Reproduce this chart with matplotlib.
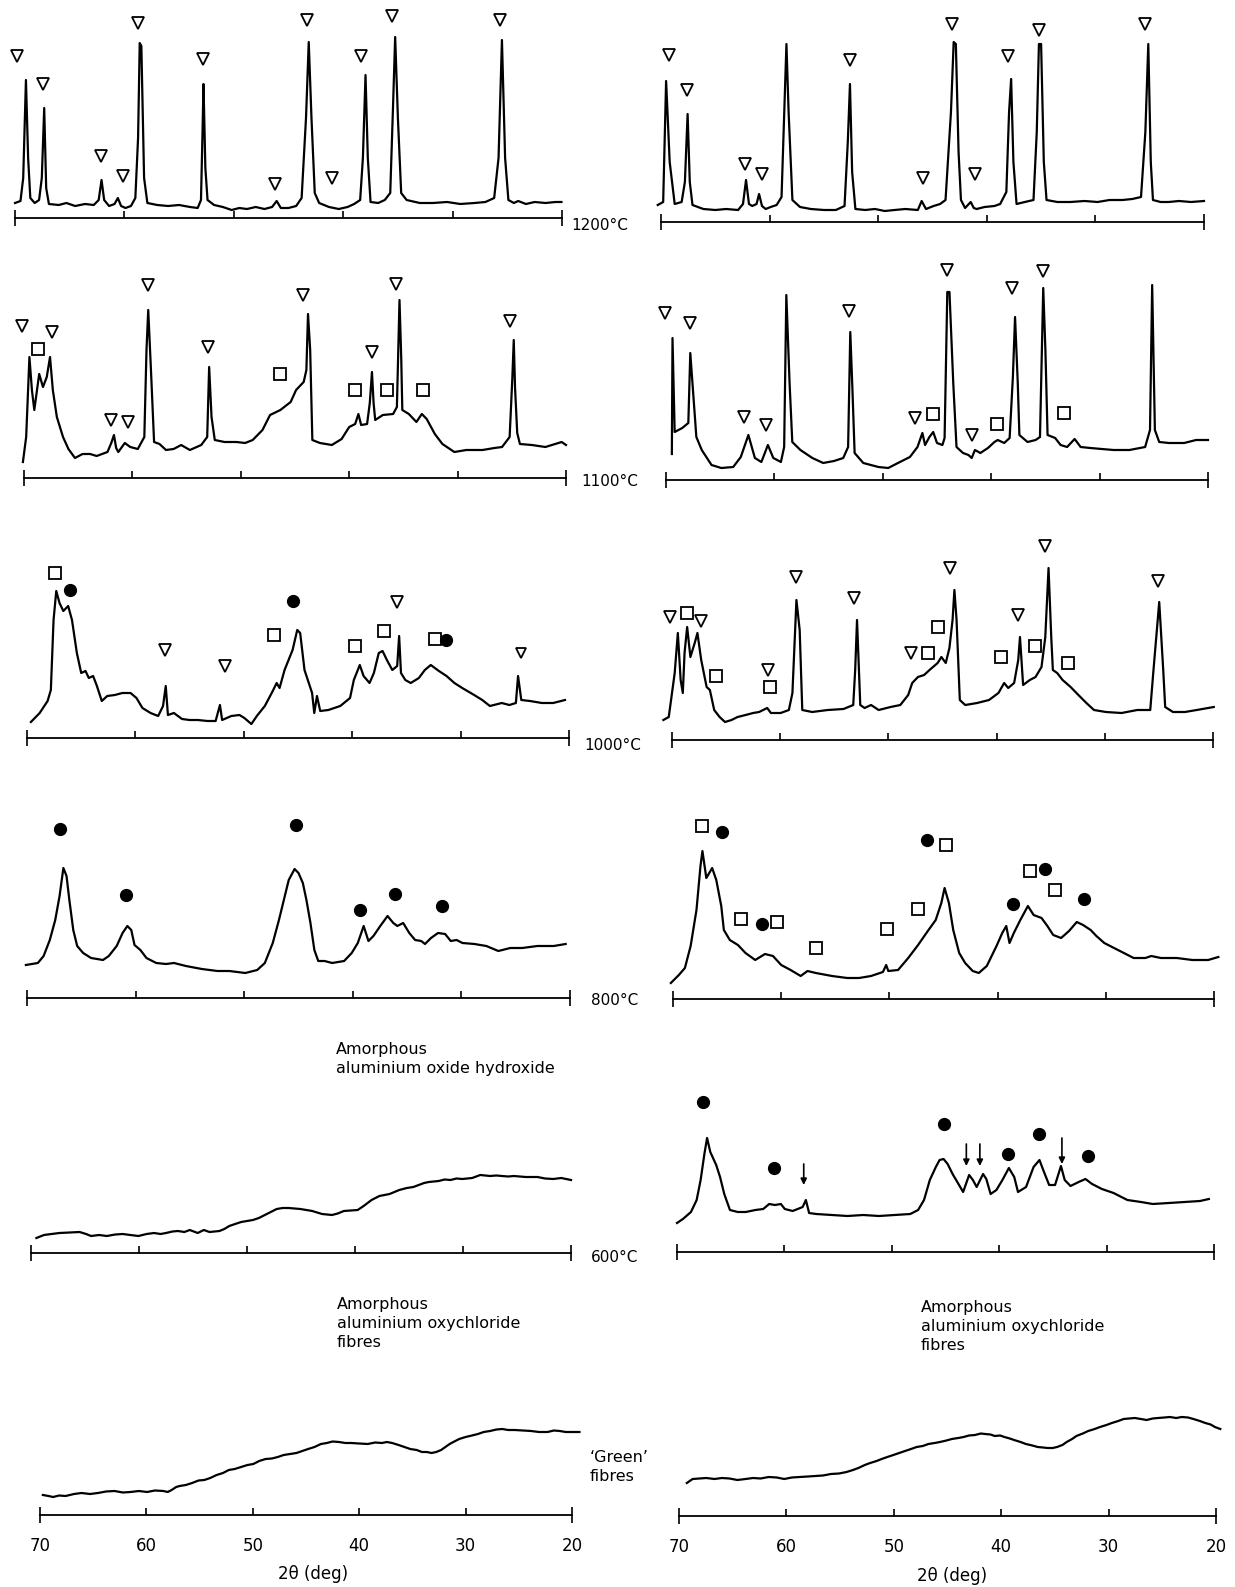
import matplotlib
matplotlib.use("Agg")
import matplotlib.pyplot as plt
from matplotlib.ticker import FixedLocator, StrMethodFormatter

plt.rcParams["font.family"] = ["DejaVu Sans"]

# ---------------------------------------------------------------------------
# X-ray diffraction traces: (2-theta in degrees, intensity in arbitrary units)
# Marker lists: (2-theta, height, phase symbol)
#   'tri' = open triangle, 'sq' = open square, 'dot' = filled circle
# ---------------------------------------------------------------------------

trace_1200_L = [(70.0, 15), (69.5, 17), (69.25, 40), (69.0, 138), (68.8, 60), (68.6, 20), (68.2, 15),
                (67.8, 18), (67.55, 40), (67.33, 110), (67.15, 30), (66.9, 14), (66.0, 13), (65.3, 15),
                (64.5, 12), (63.6, 14), (62.8, 13), (62.35, 18), (62.09, 38), (61.85, 18), (61.4, 12),
                (60.9, 14), (60.6, 20), (60.3, 12), (59.9, 10), (59.4, 12), (59.0, 20), (58.75, 80),
                (58.6, 175), (58.45, 172), (58.2, 40), (57.9, 15), (57.0, 13), (56.0, 12), (55.0, 13),
                (54.0, 11), (53.3, 10), (53.0, 18), (52.85, 90), (52.77, 134), (52.6, 50), (52.4, 18),
                (51.8, 13), (51.0, 11), (50.2, 8), (49.5, 10), (48.8, 9), (48.0, 11), (47.2, 9),
                (46.5, 11), (46.08, 17), (45.7, 10), (45.0, 10), (44.3, 12), (43.8, 20), (43.4, 100),
                (43.15, 176), (42.9, 100), (42.6, 25), (42.2, 15), (41.3, 11), (40.4, 9), (39.6, 11),
                (39.0, 14), (38.45, 18), (38.2, 60), (37.96, 143), (37.75, 60), (37.5, 16), (36.8, 15),
                (36.2, 18), (35.7, 25), (35.45, 110), (35.25, 181), (35.0, 100), (34.7, 25), (34.2, 18),
                (33.0, 15), (31.8, 15), (30.5, 16), (29.3, 14), (28.0, 15), (27.0, 16), (26.2, 20),
                (25.8, 60), (25.49, 178), (25.2, 60), (24.9, 18), (24.4, 15), (24.0, 17), (23.3, 14),
                (22.5, 16), (21.5, 15), (20.6, 16), (20.05, 16)]
marks_1200_L = [(69.86, 162, 'tri'), (67.40, 134, 'tri'), (62.16, 62, 'tri'), (60.17, 42, 'tri'),
                (58.80, 195, 'tri'), (52.77, 159, 'tri'), (46.19, 34, 'tri'), (43.30, 198, 'tri'),
                (41.03, 40, 'tri'), (38.39, 162, 'tri'), (35.53, 202, 'tri'), (25.67, 198, 'tri')]

trace_1200_R = [(70.3, 17), (69.8, 20), (69.53, 141), (69.2, 60), (68.74, 18), (68.1, 20), (67.8, 40),
                (67.55, 108), (67.35, 40), (67.1, 17), (66.1, 13), (65.0, 12), (64.0, 13), (62.9, 12),
                (62.45, 18), (62.17, 42), (61.9, 18), (61.6, 16), (61.2, 18), (60.97, 28), (60.7, 16),
                (60.36, 13), (59.9, 15), (59.35, 17), (58.9, 25), (58.65, 110), (58.45, 178),
                (58.25, 110), (57.9, 22), (57.2, 15), (56.2, 13), (55.0, 12), (53.9, 12), (53.1, 16),
                (52.8, 80), (52.6, 138), (52.4, 50), (52.1, 13), (51.2, 12), (50.3, 13), (49.4, 11),
                (48.5, 12), (47.5, 13), (46.35, 12), (46.0, 21), (45.6, 13), (44.9, 16), (44.3, 18),
                (43.8, 22), (43.3, 110), (43.05, 180), (42.85, 178), (42.6, 70), (42.38, 22), (42.0, 14),
                (41.48, 20), (41.2, 14), (40.94, 13), (40.2, 15), (39.3, 16), (38.77, 18), (38.2, 30),
                (37.95, 110), (37.76, 143), (37.55, 60), (37.26, 18), (36.5, 20), (35.7, 22), (35.4, 90),
                (35.2, 178), (35.0, 178), (34.75, 60), (34.5, 22), (33.5, 20), (32.3, 20), (31.0, 21),
                (29.8, 20), (28.7, 22), (27.5, 22), (26.6, 23), (25.8, 25), (25.4, 90), (25.13, 178),
                (24.9, 60), (24.7, 22), (24.0, 20), (23.25, 20), (22.3, 21), (21.2, 20), (20.0, 21)]
marks_1200_R = [(69.28, 167, 'tri'), (67.62, 132, 'tri'), (62.3, 58, 'tri'), (60.72, 48, 'tri'),
                (52.6, 162, 'tri'), (45.92, 44, 'tri'), (43.18, 198, 'tri'), (41.12, 48, 'tri'),
                (38.05, 166, 'tri'), (35.16, 192, 'tri'), (25.42, 198, 'tri')]

trace_1100_L = [(70.1, 16), (69.8, 41), (69.5, 121), (69.27, 88), (69.05, 68), (68.8, 88), (68.6, 104),
                (68.25, 91), (67.9, 101), (67.6, 121), (67.34, 88), (66.97, 61), (66.4, 41), (65.9, 29),
                (65.3, 20), (64.6, 24), (63.9, 24), (63.3, 22), (62.8, 24), (62.3, 26), (61.95, 35),
                (61.7, 43), (61.5, 30), (61.3, 26), (60.7, 35), (60.2, 31), (59.5, 29), (58.9, 41),
                (58.7, 128), (58.54, 168), (58.3, 111), (58.0, 36), (57.5, 34), (56.9, 28), (56.2, 29),
                (55.5, 33), (54.7, 28), (53.65, 33), (53.1, 41), (52.92, 111), (52.7, 61), (52.4, 38),
                (51.5, 36), (50.4, 36), (49.6, 35), (48.9, 38), (48.0, 48), (47.3, 63), (46.35, 68),
                (45.4, 76), (44.9, 88), (44.2, 96), (43.95, 108), (43.8, 164), (43.6, 128), (43.4, 38),
                (42.7, 35), (41.6, 33), (40.7, 39), (40.0, 51), (39.45, 54), (39.15, 64), (38.9, 53),
                (38.35, 54), (38.1, 75), (37.9, 106), (37.75, 75), (37.6, 58), (36.9, 63), (35.95, 64),
                (35.6, 71), (35.36, 178), (35.2, 120), (35.1, 68), (34.5, 64), (33.8, 56), (33.3, 64),
                (32.85, 59), (32.1, 44), (31.4, 34), (30.3, 26), (29.2, 28), (27.7, 28), (26.6, 30),
                (25.9, 31), (25.2, 41), (24.95, 100), (24.82, 138), (24.7, 90), (24.5, 45), (24.25, 34),
                (23.15, 33), (21.9, 31), (21.0, 34), (20.4, 36), (20.0, 33)]
marks_1100_L = [(70.15, 152, 'tri'), (68.7, 129, 'sq'), (67.4, 146, 'tri'), (62.0, 58, 'tri'),
                (60.4, 56, 'tri'), (58.6, 193, 'tri'), (53.0, 131, 'tri'), (46.35, 104, 'sq'),
                (44.3, 183, 'tri'), (39.45, 88, 'sq'), (37.9, 126, 'tri'), (36.5, 88, 'sq'),
                (35.7, 194, 'tri'), (33.15, 88, 'sq'), (25.2, 157, 'tri')]

trace_1100_R = [(69.46, 26), (69.4, 142), (69.2, 48), (68.5, 52), (67.94, 57), (67.76, 127), (67.6, 103),
                (67.2, 43), (66.7, 30), (65.8, 15), (64.9, 12), (63.8, 13), (63.1, 23), (62.4, 45),
                (61.8, 22), (61.2, 18), (60.6, 35), (60.1, 22), (59.4, 18), (59.1, 33), (58.9, 185),
                (58.6, 97), (58.35, 38), (57.6, 30), (56.5, 22), (55.5, 17), (54.5, 19), (53.65, 22),
                (53.2, 33), (53.0, 148), (52.8, 90), (52.6, 27), (51.8, 17), (50.4, 13), (49.5, 12),
                (48.6, 17), (47.5, 23), (46.8, 33), (46.35, 47), (46.1, 35), (45.7, 43), (45.35, 48),
                (45.0, 37), (44.5, 35), (44.3, 42), (44.05, 188), (43.85, 188), (43.5, 97), (43.2, 33),
                (42.6, 27), (42.1, 25), (41.8, 22), (41.5, 30), (41.0, 27), (40.3, 32), (39.7, 38),
                (39.4, 40), (38.8, 37), (38.3, 42), (38.0, 103), (37.8, 163), (37.55, 97), (37.4, 45),
                (36.65, 38), (35.9, 40), (35.5, 43), (35.2, 192), (35.0, 130), (34.8, 45), (34.1, 42),
                (33.6, 35), (33.0, 33), (32.3, 41), (31.75, 33), (30.85, 32), (29.8, 31), (28.7, 30),
                (27.25, 30), (25.8, 33), (25.35, 50), (25.15, 195), (24.9, 50), (24.5, 38), (23.6, 37),
                (22.2, 37), (21.1, 40), (20.0, 40)]
marks_1100_R = [(70.1, 167, 'tri'), (67.8, 157, 'tri'), (62.8, 63, 'tri'), (60.8, 55, 'tri'),
                (53.1, 169, 'tri'), (47.0, 62, 'tri'), (45.35, 66, 'sq'), (44.1, 210, 'tri'),
                (41.8, 45, 'tri'), (39.5, 56, 'sq'), (38.1, 192, 'tri'), (35.2, 209, 'tri'),
                (33.3, 67, 'sq')]

trace_1000_L = [(69.64, 16), (68.83, 25), (68.1, 37), (67.8, 48), (67.55, 118), (67.3, 147), (67.0, 135),
                (66.65, 127), (66.2, 132), (65.85, 118), (65.4, 85), (65.0, 65), (64.6, 67), (64.3, 60),
                (63.9, 62), (63.55, 52), (63.1, 37), (62.6, 42), (61.9, 43), (61.2, 45), (60.45, 45),
                (59.9, 40), (59.35, 30), (58.6, 25), (57.9, 22), (57.45, 32), (57.2, 52), (57.0, 23),
                (56.45, 25), (55.7, 19), (55.0, 18), (54.25, 18), (53.35, 17), (52.6, 17), (52.2, 33),
                (52.0, 18), (51.15, 22), (50.4, 23), (49.95, 20), (49.3, 14), (48.8, 22), (48.06, 32),
                (47.33, 47), (46.97, 55), (46.7, 50), (46.24, 68), (45.5, 88), (45.07, 108), (44.8, 105),
                (44.4, 68), (43.7, 45), (43.5, 25), (43.25, 42), (42.95, 27), (42.2, 28), (41.1, 32),
                (40.2, 40), (39.85, 58), (39.3, 73), (38.95, 62), (38.4, 55), (38.0, 65), (37.55, 85),
                (37.2, 87), (36.8, 78), (36.3, 68), (35.85, 72), (35.67, 102), (35.5, 65), (35.1, 58),
                (34.6, 55), (33.85, 60), (33.3, 68), (32.75, 73), (32.0, 67), (31.3, 62), (30.57, 55),
                (29.85, 50), (28.75, 43), (28.0, 38), (27.3, 32), (26.2, 35), (25.5, 33), (24.9, 35),
                (24.7, 62), (24.4, 38), (23.6, 37), (22.5, 35), (21.46, 35), (20.37, 38)]
marks_1000_L = [(67.4, 165, 'sq'), (66.0, 148, 'dot'), (57.25, 88, 'tri'), (51.7, 72, 'tri'),
                (47.25, 103, 'sq'), (45.5, 137, 'dot'), (39.7, 92, 'sq'), (37.1, 107, 'sq'),
                (35.85, 136, 'tri'), (32.35, 99, 'sq'), (31.35, 98, 'dot'), (24.4, 85, 'tri_s')]

trace_1000_R = [(70.8, 20), (70.3, 23), (69.75, 67), (69.46, 107), (69.2, 60), (69.0, 47), (68.84, 87),
                (68.6, 113), (68.3, 83), (67.9, 97), (67.65, 107), (67.3, 80), (66.8, 53), (66.5, 50),
                (66.1, 30), (65.6, 23), (65.1, 18), (64.5, 20), (63.94, 23), (63.2, 25), (62.5, 27),
                (61.95, 28), (61.2, 32), (60.86, 27), (59.96, 27), (59.2, 30), (58.87, 47), (58.5, 140),
                (58.2, 110), (57.96, 30), (57.05, 28), (55.6, 30), (54.15, 31), (53.25, 35), (53.07, 70),
                (52.9, 120), (52.6, 35), (52.2, 32), (51.6, 35), (50.9, 30), (49.8, 33), (48.9, 35),
                (48.17, 45), (47.8, 57), (47.27, 63), (46.7, 65), (46.2, 70), (45.45, 77), (45.1, 83),
                (44.7, 77), (44.36, 92), (44.07, 120), (43.9, 150), (43.7, 120), (43.4, 40), (42.9, 35),
                (41.8, 37), (40.7, 40), (39.83, 47), (39.3, 57), (38.93, 52), (38.38, 57), (38.0, 80),
                (37.84, 103), (37.55, 55), (36.93, 60), (36.4, 63), (35.85, 73), (35.5, 103), (35.2, 172),
                (34.95, 103), (34.8, 70), (34.4, 67), (33.9, 60), (33.16, 53), (32.44, 45), (31.7, 37),
                (31.0, 30), (29.9, 28), (28.45, 27), (27.0, 30), (25.8, 30), (25.5, 70), (24.97, 138),
                (24.6, 70), (24.42, 33), (23.7, 28), (22.6, 28), (21.5, 30), (19.93, 33)]
marks_1000_R = [(70.2, 123, 'tri'), (68.6, 127, 'sq'), (67.3, 119, 'tri'), (65.94, 64, 'sq'),
                (61.12, 70, 'tri'), (60.97, 53, 'sq'), (58.57, 163, 'tri'), (53.14, 142, 'tri'),
                (47.9, 87, 'tri'), (46.36, 87, 'sq'), (45.38, 113, 'sq'), (44.3, 172, 'tri'),
                (39.6, 83, 'sq'), (38.0, 125, 'tri'), (36.43, 94, 'sq'), (35.5, 194, 'tri'),
                (33.4, 77, 'sq'), (25.1, 159, 'tri')]

trace_800_L = [(70.1, 33), (69.0, 35), (68.47, 42), (67.9, 58), (67.4, 78), (67.0, 102), (66.65, 130),
               (66.36, 122), (66.1, 98), (65.74, 68), (65.38, 52), (64.83, 45), (64.1, 40), (63.0, 38),
               (62.47, 42), (61.74, 52), (61.2, 65), (60.76, 72), (60.4, 68), (60.1, 53), (59.56, 48),
               (59.0, 40), (58.1, 35), (57.2, 34), (56.46, 35), (55.37, 32), (53.9, 29), (52.46, 27),
               (51.37, 27), (49.9, 25), (48.8, 28), (48.1, 35), (47.37, 55), (46.8, 78), (46.35, 98),
               (45.9, 118), (45.36, 129), (45.0, 125), (44.6, 115), (44.27, 98), (43.9, 75), (43.54, 48),
               (43.18, 37), (42.6, 37), (41.9, 35), (40.8, 37), (40.1, 45), (39.54, 55), (39.0, 72),
               (38.56, 57), (38.1, 62), (37.47, 72), (36.8, 82), (36.27, 75), (35.9, 72), (35.36, 75),
               (34.8, 65), (34.26, 58), (33.7, 57), (33.35, 54), (32.8, 60), (32.15, 65), (31.5, 64),
               (30.98, 57), (30.44, 58), (29.9, 55), (28.8, 54), (27.7, 52), (26.6, 47), (25.5, 50),
               (24.4, 50), (23.0, 52), (21.5, 52), (20.4, 54)]
marks_800_L = [(67.0, 169, 'dot'), (60.9, 103, 'dot'), (45.2, 173, 'dot'), (39.3, 88, 'dot'),
               (36.16, 104, 'dot'), (31.8, 92, 'dot')]

trace_800_R = [(70.2, 16), (69.46, 24), (68.9, 31), (68.37, 53), (67.83, 89), (67.46, 133), (67.28, 148),
               (66.92, 121), (66.38, 131), (66.0, 119), (65.54, 93), (65.3, 69), (64.75, 59), (64.0, 54),
               (63.3, 46), (62.4, 39), (61.5, 45), (60.76, 43), (60.0, 34), (59.13, 29), (58.2, 23),
               (57.57, 28), (56.8, 26), (55.3, 23), (53.9, 21), (52.8, 21), (51.7, 23), (50.6, 27),
               (50.3, 34), (50.1, 28), (49.2, 29), (48.26, 41), (47.35, 54), (46.45, 68), (45.72, 79),
               (45.2, 96), (44.9, 111), (44.5, 96), (44.1, 69), (43.55, 46), (43.0, 36), (42.3, 28),
               (41.74, 26), (41.0, 33), (40.1, 53), (39.57, 66), (39.2, 73), (38.9, 56), (38.5, 66),
               (37.9, 79), (37.2, 93), (36.67, 84), (35.94, 81), (35.4, 73), (34.86, 64), (34.13, 61),
               (33.4, 68), (32.68, 77), (32.1, 74), (31.4, 69), (30.87, 63), (30.14, 56), (29.24, 51),
               (28.33, 46), (27.43, 41), (26.34, 41), (25.8, 43), (24.9, 41), (23.44, 41), (22.0, 39),
               (20.54, 39), (19.6, 42)]
marks_800_R = [(67.28, 173, 'sq'), (65.47, 167, 'dot'), (63.73, 80, 'sq'), (61.78, 75, 'dot'),
               (60.4, 77, 'sq'), (56.78, 51, 'sq'), (50.25, 70, 'sq'), (47.35, 90, 'sq'),
               (46.5, 159, 'dot'), (44.8, 154, 'sq'), (38.55, 95, 'dot'), (36.96, 128, 'sq'),
               (35.58, 130, 'dot'), (34.67, 109, 'sq'), (32.03, 100, 'dot')]

trace_600_L = [(69.5, 15), (68.8, 18), (68.1, 19), (67.37, 20), (66.4, 20.5), (65.5, 21), (64.9, 19),
               (64.44, 17), (63.7, 18), (62.98, 17), (62.2, 18.5), (61.5, 19), (60.8, 18), (60.05, 17),
               (59.3, 19), (58.6, 20), (58.0, 19), (57.5, 20), (56.9, 21.5), (56.4, 22), (55.8, 21),
               (55.3, 23), (54.56, 20), (54.0, 23), (53.47, 21), (52.55, 22), (52.1, 24), (51.64, 27),
               (51.1, 29), (50.54, 31), (49.45, 33), (48.9, 35), (48.35, 38), (47.8, 41), (47.25, 44),
               (46.7, 45), (46.15, 45), (45.6, 44.5), (45.06, 44), (44.5, 43), (43.96, 42), (43.05, 39),
               (42.13, 38), (41.6, 39.5), (41.03, 42), (40.4, 42.5), (39.75, 43), (39.2, 47), (38.47, 53),
               (37.74, 57), (36.8, 59), (35.9, 63), (35.2, 65), (34.6, 66), (34.1, 68), (33.6, 70),
               (33.17, 71), (32.25, 72), (31.7, 73.5), (31.16, 73), (30.6, 74.5), (30.06, 74), (29.15, 75),
               (28.4, 78), (27.5, 77), (26.9, 77.5), (26.4, 77), (25.8, 76.5), (25.3, 77), (24.2, 76),
               (23.1, 76), (22.4, 74.5), (21.65, 74), (20.9, 75), (20.0, 73)]

trace_600_R = [(70.0, 29), (69.45, 33), (68.7, 40), (68.17, 52), (67.8, 72), (67.45, 98), (67.2, 114),
               (66.9, 100), (66.35, 87), (65.99, 75), (65.6, 58), (65.07, 42), (64.34, 40), (63.6, 40),
               (62.7, 42), (61.97, 43), (61.42, 48), (60.88, 47), (60.33, 48), (59.96, 43), (59.23, 41),
               (58.3, 45), (58.0, 52), (57.7, 39), (57.04, 38), (55.58, 37), (54.12, 36), (52.66, 37),
               (51.2, 36), (49.74, 37), (48.28, 38), (47.55, 42), (47.0, 52), (46.46, 72), (45.9, 85),
               (45.55, 92), (45.18, 93), (44.8, 88), (44.34, 78), (43.9, 70), (43.36, 60), (42.8, 77),
               (42.45, 72), (42.1, 65), (41.5, 78), (41.2, 73), (40.8, 58), (40.26, 62), (39.7, 72),
               (39.1, 84), (38.6, 75), (38.25, 60), (37.5, 65), (36.8, 85), (36.25, 92), (35.9, 82),
               (35.35, 67), (34.8, 67), (34.25, 86), (33.9, 72), (33.36, 66), (32.6, 70), (31.97, 73),
               (31.35, 68), (30.44, 63), (29.35, 59), (28.07, 52), (26.8, 50), (25.7, 48), (24.2, 49),
               (22.74, 50), (21.3, 51), (20.48, 53)]
marks_600_R = [(67.55, 150, 'dot'), (61.0, 84, 'dot'), (45.18, 128, 'dot'), (39.16, 98, 'dot'),
               (36.3, 118, 'dot'), (31.7, 96, 'dot')]
# arrows: (2-theta, tail height, tip height)
arrows_600_R = [(58.2, 88, 67), (43.06, 108, 86), (41.8, 108, 86), (34.16, 114, 88)]

trace_green_L = [(69.73, 20), (69.2, 19), (68.77, 18), (68.2, 19.5), (67.6, 19), (66.8, 21), (66.1, 22),
                 (65.3, 21), (64.55, 22), (63.8, 23.5), (63.0, 24), (62.2, 22.5), (61.5, 23), (60.7, 24),
                 (59.94, 23), (59.2, 24.5), (58.4, 24), (58.0, 23), (57.63, 25), (57.2, 28), (56.87, 29),
                 (56.3, 30), (55.7, 32), (55.1, 34.5), (54.56, 35), (54.0, 37), (53.4, 40), (52.8, 42),
                 (52.26, 45), (51.7, 46), (51.1, 48), (50.5, 50), (49.95, 51), (49.4, 54), (48.8, 56),
                 (48.2, 56.5), (47.65, 58), (47.1, 60), (46.5, 61), (45.9, 62), (45.35, 64), (44.8, 66),
                 (44.2, 68), (43.6, 71), (43.04, 72), (42.5, 73.5), (41.9, 73), (41.3, 72), (40.74, 72),
                 (40.0, 71.5), (39.2, 71), (38.5, 72.5), (37.86, 72), (37.4, 73), (36.9, 72), (36.3, 70),
                 (35.75, 68), (35.2, 66), (34.6, 65), (34.1, 63), (33.64, 63), (33.2, 62), (32.76, 63),
                 (32.3, 65), (31.9, 68), (31.5, 71), (31.15, 73), (30.6, 76), (30.0, 78), (29.4, 79.5),
                 (28.84, 81), (28.3, 83), (27.7, 84), (27.1, 85.5), (26.55, 86), (26.0, 85), (25.4, 85),
                 (24.6, 84.5), (23.84, 84), (23.1, 83), (22.3, 83), (21.7, 84.5), (21.15, 84), (20.6, 83),
                 (20.2, 83), (19.3, 83)]

trace_green_R = [(69.27, 33), (68.73, 37), (68.1, 37.5), (67.46, 38), (66.7, 37), (66.0, 38), (65.3, 37.5),
                 (64.56, 36), (63.8, 37), (63.1, 38), (62.4, 37.5), (61.65, 39), (60.9, 38.5), (60.2, 37),
                 (59.5, 38.5), (58.75, 39), (58.0, 39.5), (57.3, 40), (56.6, 40.5), (55.85, 42),
                 (55.1, 42.5), (54.4, 44), (53.8, 46), (53.3, 48), (52.7, 51), (52.2, 53), (51.6, 55),
                 (51.13, 57), (50.6, 59), (50.04, 61), (49.5, 63), (48.95, 65), (48.4, 67), (47.87, 69),
                 (47.3, 70), (46.78, 72), (46.2, 73), (45.7, 74), (45.1, 75.5), (44.6, 77), (44.0, 78),
                 (43.5, 79), (43.0, 80.5), (42.44, 81), (41.9, 82.5), (41.5, 82), (41.0, 81.5), (40.6, 80),
                 (40.1, 80.5), (39.7, 79), (39.2, 77.5), (38.8, 76), (38.2, 74), (37.7, 72), (37.1, 70.5),
                 (36.6, 69), (36.1, 68.5), (35.7, 68), (35.2, 68), (34.8, 69), (34.3, 71), (33.9, 74),
                 (33.4, 77), (33.0, 80), (32.4, 82.5), (31.9, 85), (31.3, 87), (30.8, 89), (30.2, 91),
                 (29.7, 93), (29.1, 95), (28.6, 97), (28.1, 97.5), (27.55, 98), (27.0, 97), (26.46, 96),
                 (25.9, 97.5), (25.4, 98), (24.8, 98.5), (24.3, 99), (23.7, 98), (23.2, 99), (22.6, 98.5),
                 (22.1, 97), (21.5, 95), (21.0, 93), (20.5, 91.5), (20.1, 89), (19.6, 87)]

tick_positions = [70, 60, 50, 40, 30, 20]
temperature_labels = ["1200°C", "1100°C", "1000°C", "800°C", "600°C"]

# ---------------------------------------------------------------------------
W, H = 1235, 1587
fig = plt.figure(figsize=(W / 100, H / 100), dpi=100)
fig.patch.set_facecolor("white")

MARKER_STYLE = {
    "tri": dict(marker="v", ms=9, mfc="white", mec="black", mew=1.3),
    "tri_s": dict(marker="v", ms=7, mfc="white", mec="black", mew=1.3),
    "sq": dict(marker="s", ms=8, mfc="white", mec="black", mew=1.3),
    "dot": dict(marker="o", ms=8.5, mfc="black", mec="black", mew=1.0),
}


def make_panel(xl, xr, y_axis, labels=False, top=240):
    """Axes whose bottom spine is the 2-theta scale drawn from 70 to 20 deg."""
    ax = fig.add_axes([xl / W, 1 - y_axis / H, (xr - xl) / W, top / H])
    ax.patch.set_visible(False)
    ax.set_xlim(tick_positions[0], tick_positions[-1])
    ax.set_ylim(0, top)
    for side in ("top", "left", "right"):
        ax.spines[side].set_visible(False)
    ax.spines["bottom"].set_linewidth(1.3)
    ax.spines["bottom"].set_bounds(tick_positions[-1], tick_positions[0])
    ax.set_yticks([])
    ax.xaxis.set_major_locator(FixedLocator([tick_positions[0], tick_positions[-1]]))
    ax.xaxis.set_minor_locator(FixedLocator(tick_positions[1:-1]))
    ax.tick_params(axis="x", which="major", direction="inout", length=12, width=1.2,
                   pad=9.5, labelsize=12)
    ax.tick_params(axis="x", which="minor", direction="in", length=5, width=1.2,
                   pad=15.5, labelsize=12)
    if labels:
        ax.xaxis.set_major_formatter(StrMethodFormatter("{x:.0f}"))
        ax.xaxis.set_minor_formatter(StrMethodFormatter("{x:.0f}"))
    else:
        ax.tick_params(axis="x", which="both", labelbottom=False)
    return ax


def draw(ax, trace, marks=(), arrows=()):
    tt = [p[0] for p in trace]
    ii = [p[1] for p in trace]
    ax.plot(tt, ii, color="black", lw=1.6, clip_on=False, solid_joinstyle="round")
    for t, h, kind in marks:
        ax.plot([t], [h], linestyle="none", clip_on=False, **MARKER_STYLE[kind])
    for t, tail, tip in arrows:
        ax.annotate("", xy=(t, tip), xytext=(t, tail), annotation_clip=False,
                    arrowprops=dict(arrowstyle="-|>", color="black", lw=1.2,
                                    mutation_scale=9, shrinkA=0, shrinkB=0))


panels = [
    (trace_1200_L, marks_1200_L, (), 15, 562, 218, False),
    (trace_1200_R, marks_1200_R, (), 661, 1204, 222, False),
    (trace_1100_L, marks_1100_L, (), 24, 566, 478, False),
    (trace_1100_R, marks_1100_R, (), 666, 1208, 480, False),
    (trace_1000_L, marks_1000_L, (), 27, 569, 738, False),
    (trace_1000_R, marks_1000_R, (), 672, 1213, 740, False),
    (trace_800_L, marks_800_L, (), 27, 570, 998, False),
    (trace_800_R, marks_800_R, (), 673, 1214, 999, False),
    (trace_600_L, (), (), 31, 571, 1253, False),
    (trace_600_R, marks_600_R, arrows_600_R, 677, 1214, 1252, False),
    (trace_green_L, (), (), 40, 572, 1515, True),
    (trace_green_R, (), (), 679, 1216, 1516, True),
]

for trace, marks, arrows, xl, xr, ya, lab in panels:
    ax = make_panel(xl, xr, ya, labels=lab)
    draw(ax, trace, marks, arrows)


def ftext(x, y, s, **kw):
    fig.text(x / W, 1 - y / H, s, **kw)


for label, (x, y) in zip(temperature_labels,
                         [(571, 226), (581, 481), (584, 746), (591, 1001), (591, 1258)]):
    ftext(x, y, label, ha="left", va="center", fontsize=11)

ftext(336, 1042, "Amorphous\naluminium oxide hydroxide", ha="left", va="top",
      fontsize=11.5, linespacing=1.35)
ftext(337, 1297, "Amorphous\naluminium oxychloride\nfibres", ha="left", va="top",
      fontsize=11.5, linespacing=1.35)
ftext(921, 1300, "Amorphous\naluminium oxychloride\nfibres", ha="left", va="top",
      fontsize=11.5, linespacing=1.35)
ftext(590, 1450, "\u2018Green\u2019\nfibres", ha="left", va="top",
      fontsize=11.5, linespacing=1.35)

ftext(313, 1574, "2\u03b8 (deg)", ha="center", va="center", fontsize=12)
ftext(952, 1576, "2\u03b8 (deg)", ha="center", va="center", fontsize=12)

fig.savefig("out.png", dpi=100, facecolor="white")
